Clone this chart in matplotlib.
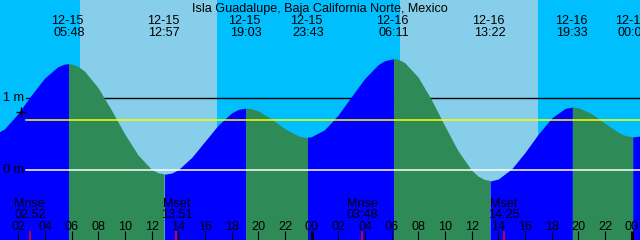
import matplotlib
matplotlib.use('Agg')
import matplotlib.pyplot as plt
import matplotlib.transforms as mtransforms
import numpy as np

plt.rcParams['font.family'] = ['Liberation Sans', 'DejaVu Sans']

title = 'Isla Guadalupe, Baja California Norte, Mexico'

# tide height (m), hours since 12-15 00:00
hours = [0, 1, 2, 3, 4, 5, 5.5, 5.8, 6, 6.5, 7, 8, 9, 10, 11, 12, 12.5, 12.95,
         13.5, 14, 15, 16, 17, 18, 18.5, 19.05, 19.5, 20, 21, 22, 23, 23.5, 23.72,
         24, 25, 26, 27, 28, 29, 29.5, 30.18, 30.5, 31, 32, 33, 34, 35, 36, 36.5,
         37, 37.37, 37.5, 38, 39, 40, 41, 42, 43, 43.55, 44, 45, 46, 47, 47.5,
         48.08, 49]
heights = [0.458, 0.565, 0.774, 1.030, 1.269, 1.428, 1.464, 1.470, 1.467, 1.434,
           1.366, 1.140, 0.831, 0.498, 0.205, 0.007, -0.045, -0.060,
           -0.042, 0.006, 0.174, 0.400, 0.626, 0.794, 0.842, 0.860, 0.851, 0.820,
           0.707, 0.573, 0.474, 0.452, 0.450,
           0.455, 0.552, 0.752, 1.008, 1.261, 1.453, 1.511, 1.540, 1.532, 1.486,
           1.287, 0.976, 0.612, 0.264, -0.003, -0.090,
           -0.139, -0.150, -0.149, -0.124, 0.016, 0.244, 0.501, 0.723, 0.855,
           0.875, 0.865, 0.782, 0.648, 0.522, 0.481,
           0.460, 0.480]

# high / low tide events
tide_hours = [5.80, 12.95, 19.05, 23.72, 30.18, 37.37, 43.55, 48.08]
tide_dates = ['12-15', '12-15', '12-15', '12-15', '12-16', '12-16', '12-16', '12-17']
tide_times = ['05:48', '12:57', '19:03', '23:43', '06:11', '13:22', '19:33', '00:05']

# moon rise / set
moon_hours = [2.867, 13.85, 27.8, 38.417]
moon_names = ['Mrise', 'Mset', 'Mrise', 'Mset']
moon_times = ['02:52', '13:51', '03:48', '14:25']

# daylight
sunrise = [6.62, 30.62]
sunset = [16.90, 40.97]

msl = 0.69
depth_marks = [0, 1]

night = '#00BFFF'
day = '#87CEEB'
flood = '#0000FF'
ebb = '#2E8B57'
fs = 9.1

fig = plt.figure(figsize=(6.4, 2.4), dpi=100, facecolor=night)
ax = fig.add_axes([0, 0, 1, 1], facecolor=night)
ax.set_xlim(0.6225, 48.6225)
ax.set_ylim(-70 / 72, 170 / 72)
ax.set_xticks([])
ax.set_yticks([])
for s in ax.spines.values():
    s.set_visible(False)

xt = mtransforms.blended_transform_factory(ax.transData, ax.transAxes)
yt = mtransforms.blended_transform_factory(ax.transAxes, ax.transData)

for a, b in zip(sunrise, sunset):
    ax.axvspan(a, b, color=day, lw=0, zorder=0)

# depth line behind the water
ax.axhline(1, xmin=26 / 640, xmax=1, color='black', lw=1.0, zorder=1)

# water: blue while rising, green while falling
t = np.array(hours)
h = np.array(heights)
d = np.sign(np.diff(h))
start = 0
for k in range(1, len(d) + 1):
    if k == len(d) or d[k] != d[start]:
        col = flood if d[start] > 0 else ebb
        ax.fill_between(t[start:k + 1], h[start:k + 1], -2, color=col, lw=0, zorder=2)
        start = k

ax.axhline(msl, xmin=26 / 640, xmax=1, color='yellow', lw=1.1, zorder=3)
ax.axhline(0, xmin=26 / 640, xmax=1, color='white', lw=1.1, zorder=3)

for m in depth_marks:
    ax.text(24 / 640, m, '%d m' % m, transform=yt, ha='right', va='center',
            fontsize=fs, zorder=5)
ax.plot([2.16], [0.8125], marker='+', color='black', markersize=6.5, mew=1.0, zorder=5)

ax.text(0.5, 0.95, title, transform=ax.transAxes, ha='center', va='baseline',
        fontsize=fs, zorder=5)

for x, dt, tm in zip(tide_hours, tide_dates, tide_times):
    ax.text(x - 0.12, 0.90, dt, transform=xt, ha='center', va='baseline', fontsize=fs, zorder=5)
    ax.text(x, 0.85, tm, transform=xt, ha='center', va='baseline', fontsize=fs, zorder=5)

for x, nm, tm in zip(moon_hours, moon_names, moon_times):
    ax.text(x, 0.1375, nm, transform=xt, ha='center', va='baseline', fontsize=fs, zorder=5)
    ax.text(x, 0.0917, tm, transform=xt, ha='center', va='baseline', fontsize=fs, zorder=5)
    ax.vlines(x, 0, 0.0375, transform=xt, color='red', lw=1.1, zorder=6)

for hr in range(2, 49, 2):
    ax.text(hr, 0.0417, '%02d' % (hr % 24), transform=xt, ha='center', va='baseline',
            fontsize=fs, zorder=5)
    w = 2.2 if hr % 24 == 0 else 0.8
    ax.vlines(hr, 0, 0.0375, transform=xt, color='black', lw=w, zorder=6)

fig.savefig('out.png', dpi=100, facecolor=night)
